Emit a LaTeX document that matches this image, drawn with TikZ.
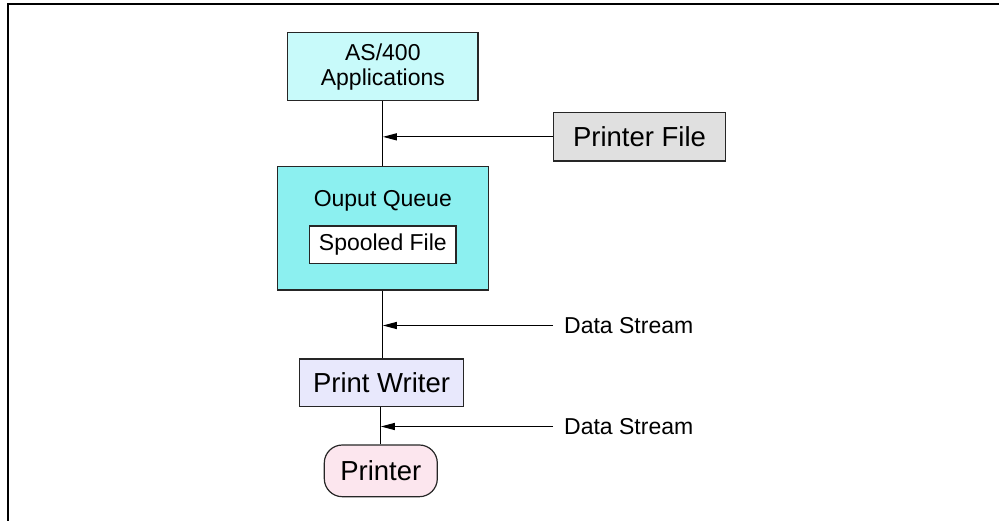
\documentclass[tikz,border=0pt]{standalone}
\usepackage{fontspec}
\setmainfont{Liberation Sans}
\usetikzlibrary{arrows.meta}
\definecolor{appcyan}{HTML}{C8FAFA}
\definecolor{oqcyan}{HTML}{8CF0F0}
\definecolor{pfgray}{HTML}{E0E0E0}
\definecolor{pwlav}{HTML}{E8E8FC}
\definecolor{prpink}{HTML}{FCE6EE}
\tikzset{
  boxstyle/.style={draw=black!85, line width=1.2pt, inner sep=0pt, align=center},
  smalltext/.style={font=\fontsize{23}{25}\selectfont},
  bigtext/.style={font=\fontsize{27.5}{30}\selectfont},
  conn/.style={draw=black, line width=1.2pt},
  arr/.style={conn, -{Triangle[length=14pt,width=7pt]}},
}
\begin{document}
\begin{tikzpicture}[x=1pt,y=-1pt]
\useasboundingbox (0,0) rectangle (999,521);
\draw[line width=2pt] (8,521) -- (8,4.5) -- (999,4.5);

\node[boxstyle, smalltext, fill=appcyan, minimum width=190.3pt, minimum height=68pt] (app) at (382.85,66.7) {AS/400\\Applications};
\node[boxstyle, bigtext, fill=pfgray, minimum width=172.4pt, minimum height=48.3pt] (pfile) at (639.5,136.85) {Printer File};
\node[boxstyle, fill=oqcyan, minimum width=211pt, minimum height=123.3pt] (oq) at (382.8,228.35) {};
\node[smalltext, inner sep=0pt] (oqt) at (382.8,200.5) {Ouput Queue};
\node[boxstyle, smalltext, fill=white, minimum width=146.3pt, minimum height=37.3pt] (spool) at (382.85,244.65) {Spooled File};
\node[boxstyle, bigtext, fill=pwlav, minimum width=164.4pt, minimum height=47.7pt] (pw) at (381.5,382.85) {Print Writer};
\node[boxstyle, bigtext, fill=prpink, rounded corners=18pt, minimum width=113pt, minimum height=51.7pt] (prn) at (380.8,470.85) {Printer};

\node[smalltext, inner sep=0pt, anchor=west] (ds1) at (564,325.5) {Data Stream};
\node[smalltext, inner sep=0pt, anchor=west] (ds2) at (564,426.5) {Data Stream};

\path[conn] (app.south) -- (app.south |- oq.north);
\path[conn] (oq.south) -- (oq.south |- pw.north);
\path[conn] (prn.north) -- (prn.north |- pw.south);

\path[arr] (pfile.west) -- (pfile.west -| app.south);
\coordinate (s1) at ([xshift=-11pt]ds1.west);
\coordinate (s2) at ([xshift=-11pt]ds2.west);
\path[arr] (s1) -- (s1 -| oq.south);
\path[arr] (s2) -- (s2 -| prn.north);
\end{tikzpicture}
\end{document}
